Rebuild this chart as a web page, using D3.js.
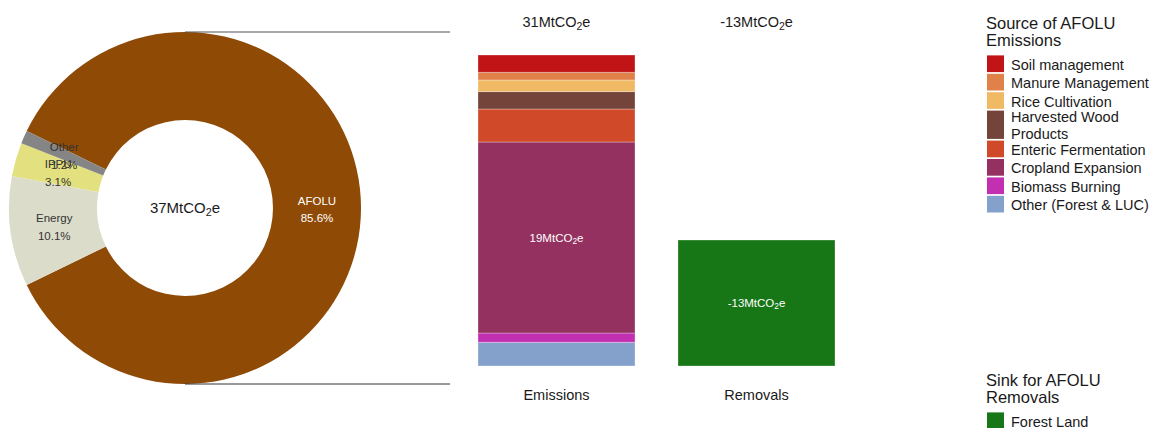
<!DOCTYPE html>
<html>
<head>
<meta charset="utf-8">
<script src="https://cdn.jsdelivr.net/npm/d3@7"></script>
<style>
  html, body { margin: 0; padding: 0; background: #fff; }
  svg { display: block; font-family: "Liberation Sans", Arial, sans-serif; }
</style>
</head>
<body>
<svg id="chart" width="1154" height="428"></svg>
<script>
// Sector shares of total emissions (%)
const sectors = ["AFOLU", "Energy", "IPPU", "Other"];
const sectorShares = [85.6, 10.1, 3.1, 1.2];
const sectorColors = ["#8f4a06", "#dcdccb", "#e3e17f", "#858585"];
const totalEmissions = 37; // MtCO2e

// AFOLU breakdown (MtCO2e), listed top to bottom of the stack
const sources = ["Soil management", "Manure Management", "Rice Cultivation",
  "Harvested Wood Products", "Enteric Fermentation", "Cropland Expansion",
  "Biomass Burning", "Other (Forest & LUC)"];
const sourceValues = [1.73, 0.77, 1.16, 1.74, 3.3, 19.1, 0.93, 2.37];
const sourceColors = ["#c01416", "#e0814a", "#f0b964", "#74433a",
  "#d04a2a", "#943160", "#c22fb0", "#84a1cc"];

// AFOLU removals (MtCO2e)
const sinks = ["Forest Land"];
const sinkValues = [-12.6];
const sinkColors = ["#177716"];

const barCategories = ["Emissions", "Removals"];

const svg = d3.select("#chart");
const textColor = "#1a1a1a";

// Writes "<n>MtCO2e" with a subscript 2
function co2Label(sel, value) {
  sel.text(null);
  sel.append("tspan").text(Math.round(value) + "MtCO");
  sel.append("tspan").attr("baseline-shift", "-25%").attr("font-size", "72%").text("2");
  sel.append("tspan").text("e");
}

// ---------- Donut ----------
const cx = 185, cy = 208, outerR = 176, innerR = 88;
const afoluShare = sectorShares[0] / d3.sum(sectorShares);
const startAngle = Math.PI / 2 - afoluShare * Math.PI; // AFOLU centred on the right
const pie = d3.pie().sort(null).startAngle(startAngle).endAngle(startAngle + 2 * Math.PI);
const arcs = pie(sectorShares);
const arc = d3.arc().innerRadius(innerR).outerRadius(outerR);
const labelArc = d3.arc().innerRadius((innerR + outerR) / 2).outerRadius((innerR + outerR) / 2);

const donut = svg.append("g").attr("transform", `translate(${cx},${cy})`);
donut.selectAll("path.slice").data(arcs).join("path")
  .attr("class", "slice")
  .attr("d", arc)
  .attr("fill", (d, i) => sectorColors[i]);

const sliceLabels = donut.selectAll("text.slice-label").data(arcs).join("text")
  .attr("class", "slice-label")
  .attr("text-anchor", "middle")
  .attr("font-size", 11.5)
  .attr("fill", (d, i) => i === 0 ? "#ffffff" : "#333333")
  .attr("transform", d => `translate(${labelArc.centroid(d)})`);
sliceLabels.append("tspan").attr("x", 0).attr("dy", "-0.3em").text((d, i) => sectors[i]);
sliceLabels.append("tspan").attr("x", 0).attr("dy", "1.55em").text((d, i) => sectorShares[i].toFixed(1) + "%");

donut.append("text")
  .attr("text-anchor", "middle").attr("dy", "0.35em")
  .attr("font-size", 15).attr("fill", textColor)
  .call(co2Label, totalEmissions);

// Connector lines from donut to the bars
const lineEnd = 450;
svg.append("line").attr("x1", cx).attr("y1", cy - outerR).attr("x2", lineEnd).attr("y2", cy - outerR)
  .attr("stroke", "#555").attr("stroke-width", 1);
svg.append("line").attr("x1", cx).attr("y1", cy + outerR).attr("x2", lineEnd).attr("y2", cy + outerR)
  .attr("stroke", "#333").attr("stroke-width", 1);

// ---------- Stacked bars ----------
const emissionsTotal = d3.sum(sourceValues);
const x = d3.scaleBand().domain(barCategories).range([456.5, 856.5])
  .paddingInner(0.215).paddingOuter(0.1075);
const y = d3.scaleLinear().domain([0, emissionsTotal]).range([366, 55]);

// Stack from the bottom: last source sits at the base
const stackOrder = sources.map((s, i) => i).reverse();
let acc = 0;
const segs = stackOrder.map(i => {
  const s = { i, y0: acc, y1: acc + sourceValues[i] };
  acc += sourceValues[i];
  return s;
});

const bars = svg.append("g");
bars.selectAll("rect.src").data(segs).join("rect")
  .attr("class", "src")
  .attr("x", x("Emissions"))
  .attr("width", x.bandwidth())
  .attr("y", d => y(d.y1))
  .attr("height", d => y(d.y0) - y(d.y1))
  .attr("fill", d => sourceColors[d.i])
  .attr("stroke", "#ffffff").attr("stroke-opacity", 0.3).attr("stroke-width", 1);

let accS = 0;
const sinkSegs = sinkValues.map((v, i) => {
  const s = { i, y0: accS, y1: accS + Math.abs(v) };
  accS += Math.abs(v);
  return s;
});
bars.selectAll("rect.sink").data(sinkSegs).join("rect")
  .attr("class", "sink")
  .attr("x", x("Removals"))
  .attr("width", x.bandwidth())
  .attr("y", d => y(d.y1))
  .attr("height", d => y(d.y0) - y(d.y1))
  .attr("fill", d => sinkColors[d.i])
  .attr("stroke", "#ffffff").attr("stroke-opacity", 0.3).attr("stroke-width", 1);

// Value label inside the largest emission segment and the sink
const bigSeg = segs.reduce((a, b) => (b.y1 - b.y0 > a.y1 - a.y0 ? b : a));
bars.append("text")
  .attr("x", x("Emissions") + x.bandwidth() / 2)
  .attr("y", y((bigSeg.y0 + bigSeg.y1) / 2))
  .attr("dy", "0.35em").attr("text-anchor", "middle")
  .attr("font-size", 11.5).attr("fill", "#ffffff")
  .call(co2Label, sourceValues[bigSeg.i]);
sinkSegs.forEach(d => {
  bars.append("text")
    .attr("x", x("Removals") + x.bandwidth() / 2)
    .attr("y", y((d.y0 + d.y1) / 2))
    .attr("dy", "0.35em").attr("text-anchor", "middle")
    .attr("font-size", 11.5).attr("fill", "#ffffff")
    .call(co2Label, sinkValues[d.i]);
});

// Totals above, category names below
const barTotals = [emissionsTotal, d3.sum(sinkValues)];
barCategories.forEach((c, i) => {
  svg.append("text")
    .attr("x", x(c) + x.bandwidth() / 2).attr("y", 22)
    .attr("dy", "0.35em").attr("text-anchor", "middle")
    .attr("font-size", 14.5).attr("fill", textColor)
    .call(co2Label, barTotals[i]);
  svg.append("text")
    .attr("x", x(c) + x.bandwidth() / 2).attr("y", 395)
    .attr("dy", "0.35em").attr("text-anchor", "middle")
    .attr("font-size", 14.5).attr("fill", textColor)
    .text(c);
});

// ---------- Legends ----------
function legend(g, titleLines, names, colors, top) {
  const lx = 987, tx = 1011, lineH = 16.7, gap = 1.7;
  titleLines.forEach((t, k) => {
    g.append("text").attr("x", lx - 1).attr("y", top + k * 17.4)
      .attr("dy", "0.35em").attr("font-size", 16.5).attr("fill", textColor).text(t);
  });
  let yy = top + 32.4;
  names.forEach((n, i) => {
    const lines = n === "Harvested Wood Products" ? ["Harvested Wood", "Products"] : [n];
    const h = lines.length === 1 ? lineH : lineH + 11.6;
    g.append("rect").attr("x", lx).attr("y", yy).attr("width", 17).attr("height", h)
      .attr("fill", colors[i]);
    lines.forEach((l, k) => {
      g.append("text")
        .attr("x", tx)
        .attr("y", yy + h / 2 - (lines.length - 1) * lineH / 2 + 1 + k * lineH)
        .attr("dy", "0.35em").attr("font-size", 14.5).attr("fill", textColor).text(l);
    });
    yy += h + gap;
  });
}
legend(svg.append("g"), ["Source of AFOLU", "Emissions"], sources, sourceColors, 23);
legend(svg.append("g"), ["Sink for AFOLU", "Removals"], sinks, sinkColors, 380);
</script>
</body>
</html>
